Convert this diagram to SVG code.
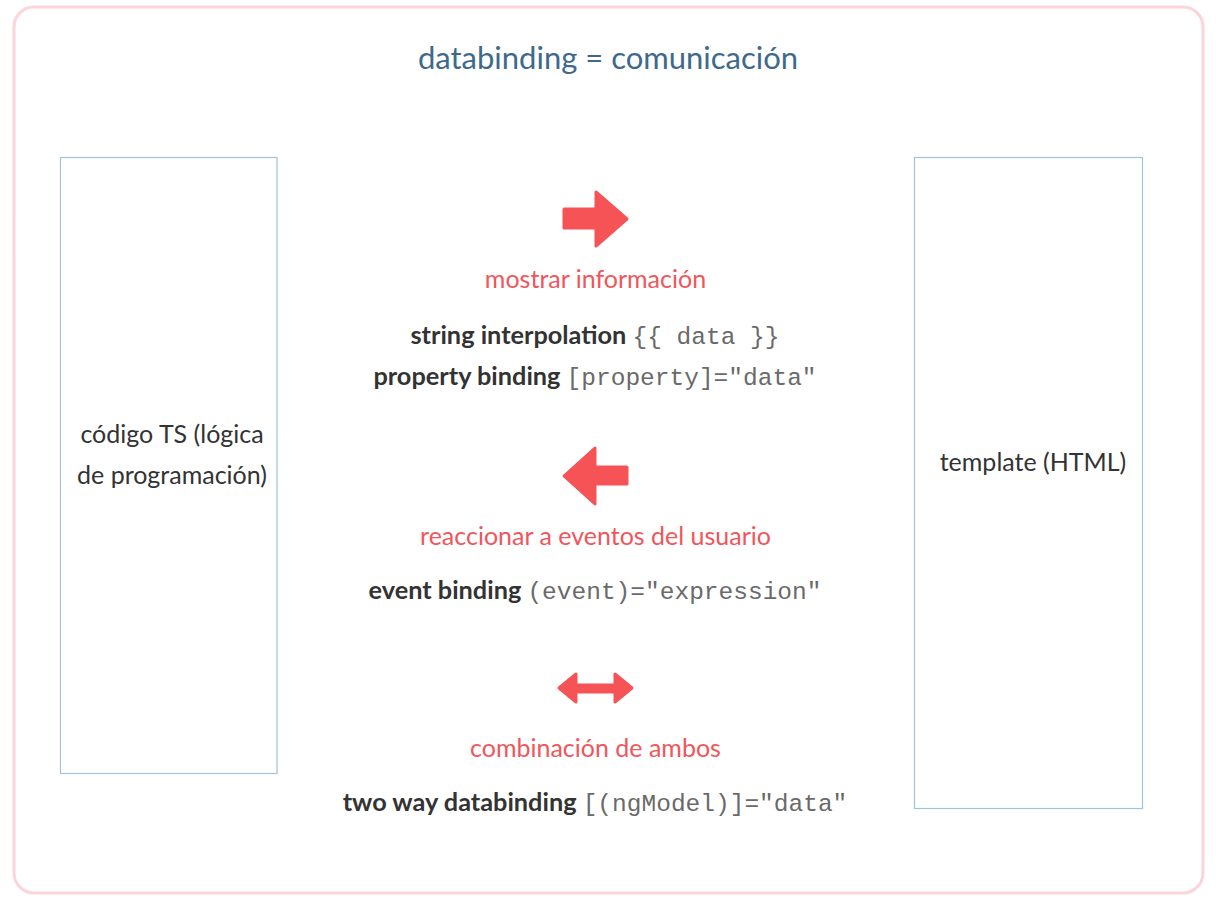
<svg xmlns="http://www.w3.org/2000/svg" width="1216" height="905" viewBox="0 0 1216 905">
<style>
.frame{fill:#fff;stroke:#fcd5da;stroke-width:3}
.box{fill:#fff;stroke:#9fc5d5;stroke-width:1.2}
.title{font-family:Lato,"Liberation Sans",sans-serif;font-size:31px;fill:#3d6a8c}
.red{font-family:Lato,"Liberation Sans",sans-serif;font-size:25px;fill:#f0565b}
.lbl{font-family:Lato,"Liberation Sans",sans-serif;font-size:25px;fill:#333}
.b{font-family:Lato,"Liberation Sans",sans-serif;font-weight:bold;font-size:25.3px;fill:#333}
.m{font-family:"Liberation Mono","Courier New",monospace;font-size:24.5px;fill:#6a6a6a}
.arrow{fill:#f65357;stroke:#f65357;stroke-width:3;stroke-linejoin:round}
</style>
<rect class="frame" x="14" y="7" width="1189" height="886" rx="20"/>
<g id="title"><text class="title" x="608" y="69" text-anchor="middle">databinding = comunicación</text></g>
<g id="ts-code">
<rect class="box" x="60.5" y="157.5" width="216.5" height="616"/>
<text class="lbl" x="172" y="443" text-anchor="middle">código TS (lógica</text>
<text class="lbl" x="172" y="484" text-anchor="middle">de programación)</text>
</g>
<g id="template">
<rect class="box" x="914.5" y="157.5" width="228" height="651"/>
<text class="lbl" x="1033" y="471" text-anchor="middle">template (HTML)</text>
</g>
<g id="connectors">
<polygon class="arrow" points="564,209 596,209 596,192 627,219 596,246 596,228 564,228"/>
<polygon class="arrow" points="627,467 595,467 595,448 564,476 595,504 595,484 627,484"/>
<polygon class="arrow" points="559,688 576,674 576,685 615,685 615,674 632,688 615,702 615,692 576,692 576,702"/>
</g>
<g id="show-info">
<text class="red" x="595.5" y="288" text-anchor="middle">mostrar información</text>
<text x="595" y="344" text-anchor="middle"><tspan class="b">string interpolation </tspan><tspan class="m">{{ data }}</tspan></text>
<text x="595" y="385" text-anchor="middle"><tspan class="b">property binding </tspan><tspan class="m">[property]="data"</tspan></text>
</g>
<g id="events">
<text class="red" x="595.5" y="545" text-anchor="middle">reaccionar a eventos del usuario</text>
<text x="595" y="599" text-anchor="middle"><tspan class="b">event binding </tspan><tspan class="m">(event)="expression"</tspan></text>
</g>
<g id="both">
<text class="red" x="595.5" y="757" text-anchor="middle">combinación de ambos</text>
<text x="595" y="811" text-anchor="middle"><tspan class="b">two way databinding </tspan><tspan class="m">[(ngModel)]="data"</tspan></text>
</g>
</svg>
